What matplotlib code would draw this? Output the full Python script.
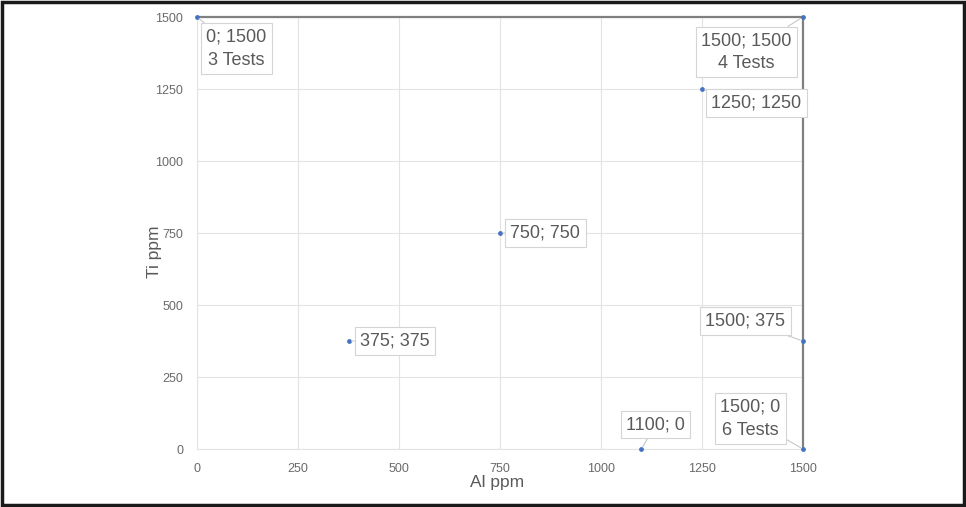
import matplotlib.pyplot as plt
from matplotlib.patches import Rectangle

# Test points (Al ppm, Ti ppm) and their callout text
al_ppm = [0, 1500, 1250, 750, 375, 1500, 1100, 1500]
ti_ppm = [1500, 1500, 1250, 750, 375, 375, 0, 0]
etiquetas = ['0; 1500\n3 Tests', '1500; 1500\n4 Tests', '1250; 1250', '750; 750',
             '375; 375', '1500; 375', '1100; 0', '1500; 0\n6 Tests']
# where each callout box sits (data units)
pos_etiquetas = [(97, 1390), (1360, 1378), (1385, 1202), (862, 750),
                 (490, 375), (1357, 445), (1135, 85), (1370, 105)]

# limit of the test region
limite_x = [0, 1500, 1500]
limite_y = [1500, 1500, 0]

ticks = [0, 250, 500, 750, 1000, 1250, 1500]

plt.rcParams['font.family'] = ['Liberation Sans', 'DejaVu Sans']

fig = plt.figure(figsize=(9.66, 5.07), dpi=100)
ax = fig.add_axes([197 / 966, 1 - 449 / 507, 606 / 966, 432 / 507])

ax.plot(limite_x, limite_y, color='#808080', lw=1.6, zorder=3, clip_on=False)
ax.scatter(al_ppm, ti_ppm, s=6, color='#4472C4', zorder=5, clip_on=False)

for x, y, txt, (tx, ty) in zip(al_ppm, ti_ppm, etiquetas, pos_etiquetas):
    ax.annotate(txt, xy=(x, y), xytext=(tx, ty), ha='center', va='center',
                fontsize=13, color='#595959', linespacing=1.45,
                bbox=dict(boxstyle='square,pad=0.3', fc='white', ec='#d4d4d4', lw=0.8),
                arrowprops=dict(arrowstyle='-', color='#c8c8c8', lw=0.8,
                                shrinkA=0, shrinkB=2),
                zorder=6, annotation_clip=False)

ax.set_xlim(0, 1500)
ax.set_ylim(0, 1500)
ax.set_xticks(ticks)
ax.set_yticks(ticks)
ax.tick_params(length=0, pad=10, labelsize=9, labelcolor='#6a6a6a')
ax.grid(True, color='#e3e3e3', lw=0.8)
ax.set_axisbelow(True)
for lado in ['top', 'right']:
    ax.spines[lado].set_visible(False)
for lado in ['left', 'bottom']:
    ax.spines[lado].set_color('#e3e3e3')

fig.text(497 / 966, 1 - 482 / 507, 'Al ppm', ha='center', va='center',
         fontsize=12.5, color='#595959')
fig.text(154 / 966, 1 - 252 / 507, 'Ti ppm', ha='center', va='center',
         rotation=90, fontsize=12.5, color='#595959')

# black frame around the whole figure
fig.patches.append(Rectangle((0.002, 0.003), 0.996, 0.994, transform=fig.transFigure,
                             fill=False, ec='#1a1a1a', lw=2.5))

fig.savefig('out.png', dpi=100)
